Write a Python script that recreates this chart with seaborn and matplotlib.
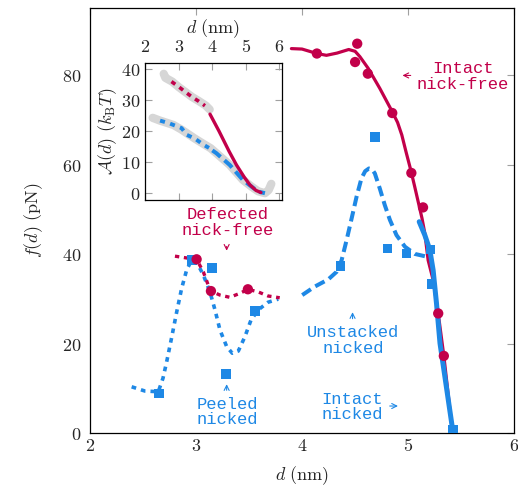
import matplotlib
matplotlib.use("Agg")
import matplotlib.pyplot as plt
import seaborn as sns
import pandas as pd

# ---- colours ----
RED = "#C2004A"
BLUE = "#1E88E5"
GRAY = "#D6D6D6"

# ---- main panel: force-extension curves f(d) ----
intact_nickfree_d = [3.90, 4.00, 4.14, 4.23, 4.33, 4.44, 4.50, 4.545, 4.623, 4.733, 4.85,
                     4.90, 4.94, 4.98, 5.025, 5.06, 5.094, 5.13, 5.157, 5.188, 5.235,
                     5.283, 5.336, 5.408, 5.42]
intact_nickfree_f = [86.0, 85.9, 84.9, 84.5, 85.0, 85.8, 85.4, 84.2, 81.6, 77.1, 71.9,
                     69.5, 66.7, 62.9, 58.8, 55.3, 51.8, 48.1, 44.7, 38.7, 34.3,
                     26.8, 17.3, 2.2, 0.0]

defected_nickfree_d = [2.803, 2.913, 3.007, 3.07, 3.117, 3.142, 3.227, 3.32, 3.415,
                       3.49, 3.588, 3.68, 3.79]
defected_nickfree_f = [39.6, 39.2, 38.9, 36.1, 33.1, 31.8, 30.9, 30.4, 31.3,
                       32.2, 31.6, 30.7, 30.3]

peeled_nicked_d = [2.395, 2.52, 2.646, 2.69, 2.725, 2.77, 2.82, 2.866, 2.913, 2.96,
                   3.007, 3.07, 3.133, 3.18, 3.227, 3.29, 3.343, 3.40, 3.462, 3.519,
                   3.588, 3.68, 3.776]
peeled_nicked_f = [10.4, 9.45, 9.3, 12.3, 16.0, 21.2, 27.2, 32.4, 36.5, 38.7,
                   38.3, 35.4, 31.6, 27.6, 23.1, 19.4, 17.9, 18.4, 21.6, 25.3,
                   27.6, 29.3, 30.0]

unstacked_nicked_d = [4.002, 4.12, 4.247, 4.326, 4.373, 4.42, 4.467, 4.514, 4.56, 4.595,
                      4.63, 4.66, 4.686, 4.733, 4.78, 4.828, 4.89, 4.97, 5.063, 5.173, 5.22]
unstacked_nicked_f = [30.9, 32.8, 34.4, 36.1, 38.7, 43.2, 48.0, 52.9, 57.0, 58.6,
                      59.2, 59.0, 58.1, 54.7, 51.0, 47.7, 44.3, 41.7, 40.1, 39.5, 39.4]

intact_nicked_d = [5.104, 5.157, 5.204, 5.235, 5.267, 5.30, 5.424]
intact_nicked_f = [47.3, 44.3, 41.0, 36.5, 29.0, 20.1, 0.0]

# simulation samples
nickfree_pts_d = [3.007, 3.142, 3.49, 4.14, 4.50, 4.52, 4.62, 4.85, 5.03, 5.14, 5.283, 5.336]
nickfree_pts_f = [38.9, 31.8, 32.2, 84.9, 83.0, 87.1, 80.4, 71.6, 58.2, 50.5, 26.8, 17.3]

nicked_pts_d = [2.655, 2.96, 3.155, 3.28, 3.557, 4.363, 4.69, 4.806, 4.985, 5.211, 5.22, 5.424]
nicked_pts_f = [8.9, 38.7, 36.9, 13.2, 27.3, 37.4, 66.3, 41.3, 40.2, 41.1, 33.3, 0.7]

# ---- inset: free-energy profiles A(d) ----
nf_band_d = [2.55, 2.60, 2.80, 3.00, 3.20, 3.40, 3.60, 3.80, 3.92]
nf_band_a = [38.5, 37.2, 36.0, 34.2, 32.6, 31.0, 29.7, 28.3, 27.0]
nf_dot_d = [2.78, 3.00, 3.20, 3.40, 3.60, 3.78]
nf_dot_a = [36.0, 34.3, 32.6, 31.0, 29.6, 28.2]
nf_solid_d = [3.93, 4.20, 4.50, 4.72, 4.95, 5.12, 5.30, 5.45]
nf_solid_a = [25.5, 20.0, 13.5, 9.1, 5.2, 2.7, 0.9, 0.2]

nk_band_d = [2.22, 2.44, 2.84, 3.08, 3.48, 3.78, 3.95, 4.12, 4.52, 4.91, 5.17, 5.37, 5.57, 5.68, 5.76]
nk_band_a = [24.3, 23.4, 22.0, 20.5, 17.6, 15.6, 14.5, 12.9, 9.1, 4.3, 2.1, 0.6, 0.0, 1.0, 3.0]
nk_dot_d = [2.44, 2.70, 2.84, 3.08, 3.24, 3.48, 3.74, 3.90]
nk_dot_a = [23.4, 22.6, 22.0, 21.0, 18.8, 17.6, 15.6, 14.6]
nk_dash_d = [4.00, 4.12, 4.52, 4.91, 5.17, 5.37, 5.57]
nk_dash_a = [13.8, 12.9, 9.1, 4.3, 2.1, 0.5, 0.0]

main_xticks = [2, 3, 4, 5, 6]
main_yticks = [0, 20, 40, 60, 80]
inset_xticks = [2, 3, 4, 5, 6]
inset_yticks = [0, 10, 20, 30, 40]

sns.set_theme(style="white")
plt.rcParams["mathtext.fontset"] = "cm"
plt.rcParams["font.family"] = ["DejaVu Serif"]

fig = plt.figure(figsize=(5.18, 4.91), dpi=100)
ax = fig.add_axes([0.1732, 0.1175, 0.8197, 0.8655])


def line(a, xs, ys, **kw):
    df = pd.DataFrame({"x": xs, "y": ys})
    sns.lineplot(data=df, x="x", y="y", ax=a, estimator=None, sort=False,
                 solid_joinstyle="round", dash_joinstyle="round", **kw)


DOT = (0, (1.3, 1.4))
DASH = (0, (2.6, 1.3))

line(ax, intact_nickfree_d, intact_nickfree_f, color=RED, lw=2.3, zorder=3)
line(ax, intact_nicked_d, intact_nicked_f, color=BLUE, lw=3.6, zorder=4)
line(ax, defected_nickfree_d, defected_nickfree_f, color=RED, lw=2.4, linestyle=DOT, zorder=3)
line(ax, peeled_nicked_d, peeled_nicked_f, color=BLUE, lw=2.6, linestyle=DOT, zorder=2)
line(ax, unstacked_nicked_d, unstacked_nicked_f, color=BLUE, lw=2.9, linestyle=DASH, zorder=2)

sns.scatterplot(x=nicked_pts_d, y=nicked_pts_f, ax=ax, marker="s", s=50,
                color=BLUE, edgecolor="none", zorder=5)
sns.scatterplot(x=nickfree_pts_d, y=nickfree_pts_f, ax=ax, marker="o", s=55,
                color=RED, edgecolor="none", zorder=6)

ax.set_xlim(2, 6)
ax.set_ylim(0, 95)
ax.set_xticks(main_xticks)
ax.set_xticklabels([f"${v}$" for v in main_xticks])
ax.set_yticks(main_yticks)
ax.set_yticklabels([f"${v}$" for v in main_yticks])
ax.tick_params(direction="in", length=5, width=0.8, color="#A0A0A0",
               top=True, right=True, labelsize=13)
ax.tick_params(axis="x", pad=3)
ax.tick_params(axis="y", pad=6)
for s in ax.spines.values():
    s.set_color("black")
    s.set_linewidth(0.9)
ax.set_xlabel(r"$d\ \mathrm{(nm)}$", fontsize=13, labelpad=6)
ax.set_ylabel(r"$f(d)\ \mathrm{(pN)}$", fontsize=13, labelpad=12)

# ---- annotations ----
MONO = "Liberation Mono"
txt = dict(family=MONO, fontsize=12.3, ha="center", va="center", linespacing=1.05)
arw = dict(arrowstyle="->,head_length=0.3,head_width=0.15", lw=0.8)

ax.text(5.515, 79.8, "Intact\nnick-free", color=RED, **txt)
ax.annotate("", xy=(4.92, 80.0), xytext=(5.05, 80.0), arrowprops=dict(color=RED, **arw))

ax.text(3.297, 47.1, "Defected\nnick-free", color=RED, **txt)
ax.annotate("", xy=(3.29, 40.2), xytext=(3.29, 42.4), arrowprops=dict(color=RED, **arw))

ax.text(3.297, 4.76, "Peeled\nnicked", color=BLUE, **txt)
ax.annotate("", xy=(3.29, 11.6), xytext=(3.29, 9.0), arrowprops=dict(color=BLUE, **arw))

ax.text(4.479, 20.8, "Unstacked\nnicked", color=BLUE, **txt)
ax.annotate("", xy=(4.476, 27.7), xytext=(4.476, 25.0), arrowprops=dict(color=BLUE, **arw))

ax.text(4.475, 5.9, "Intact\nnicked", color=BLUE, **txt)
ax.annotate("", xy=(4.93, 6.1), xytext=(4.80, 6.1), arrowprops=dict(color=BLUE, **arw))

# ---- inset ----
ins = fig.add_axes([0.2799, 0.5927, 0.2639, 0.2784])
line(ins, nf_band_d, nf_band_a, color=GRAY, lw=6, solid_capstyle="round", zorder=1)
line(ins, nk_band_d, nk_band_a, color=GRAY, lw=6, solid_capstyle="round", zorder=1)
line(ins, nf_dot_d, nf_dot_a, color=RED, lw=2.6, linestyle=DOT, zorder=3)
line(ins, nf_solid_d, nf_solid_a, color=RED, lw=2.4, zorder=3)
line(ins, nk_dot_d, nk_dot_a, color=BLUE, lw=2.8, linestyle=DOT, zorder=2)
line(ins, nk_dash_d, nk_dash_a, color=BLUE, lw=2.9, linestyle=DASH, zorder=2)

ins.set_xlim(1.99, 6.07)
ins.set_ylim(-2.2, 41.9)
ins.set_xticks(inset_xticks)
ins.set_xticklabels([f"${v}$" for v in inset_xticks])
ins.set_yticks(inset_yticks)
ins.set_yticklabels([f"${v}$" for v in inset_yticks])
ins.xaxis.set_label_position("top")
ins.xaxis.tick_top()
ins.tick_params(direction="in", length=5, width=0.8, color="#A0A0A0",
                top=True, bottom=True, left=True, right=True,
                labeltop=True, labelbottom=False, labelsize=13)
ins.tick_params(axis="x", pad=5)
ins.tick_params(axis="y", pad=3)
for s in ins.spines.values():
    s.set_color("black")
    s.set_linewidth(0.9)
ins.set_xlabel(r"$d\ \mathrm{(nm)}$", fontsize=13, labelpad=4)
ins.set_ylabel(r"$\mathcal{A}(d)\ (k_\mathrm{B}T)$", fontsize=13, labelpad=2)

fig.savefig("out.png", dpi=100)
